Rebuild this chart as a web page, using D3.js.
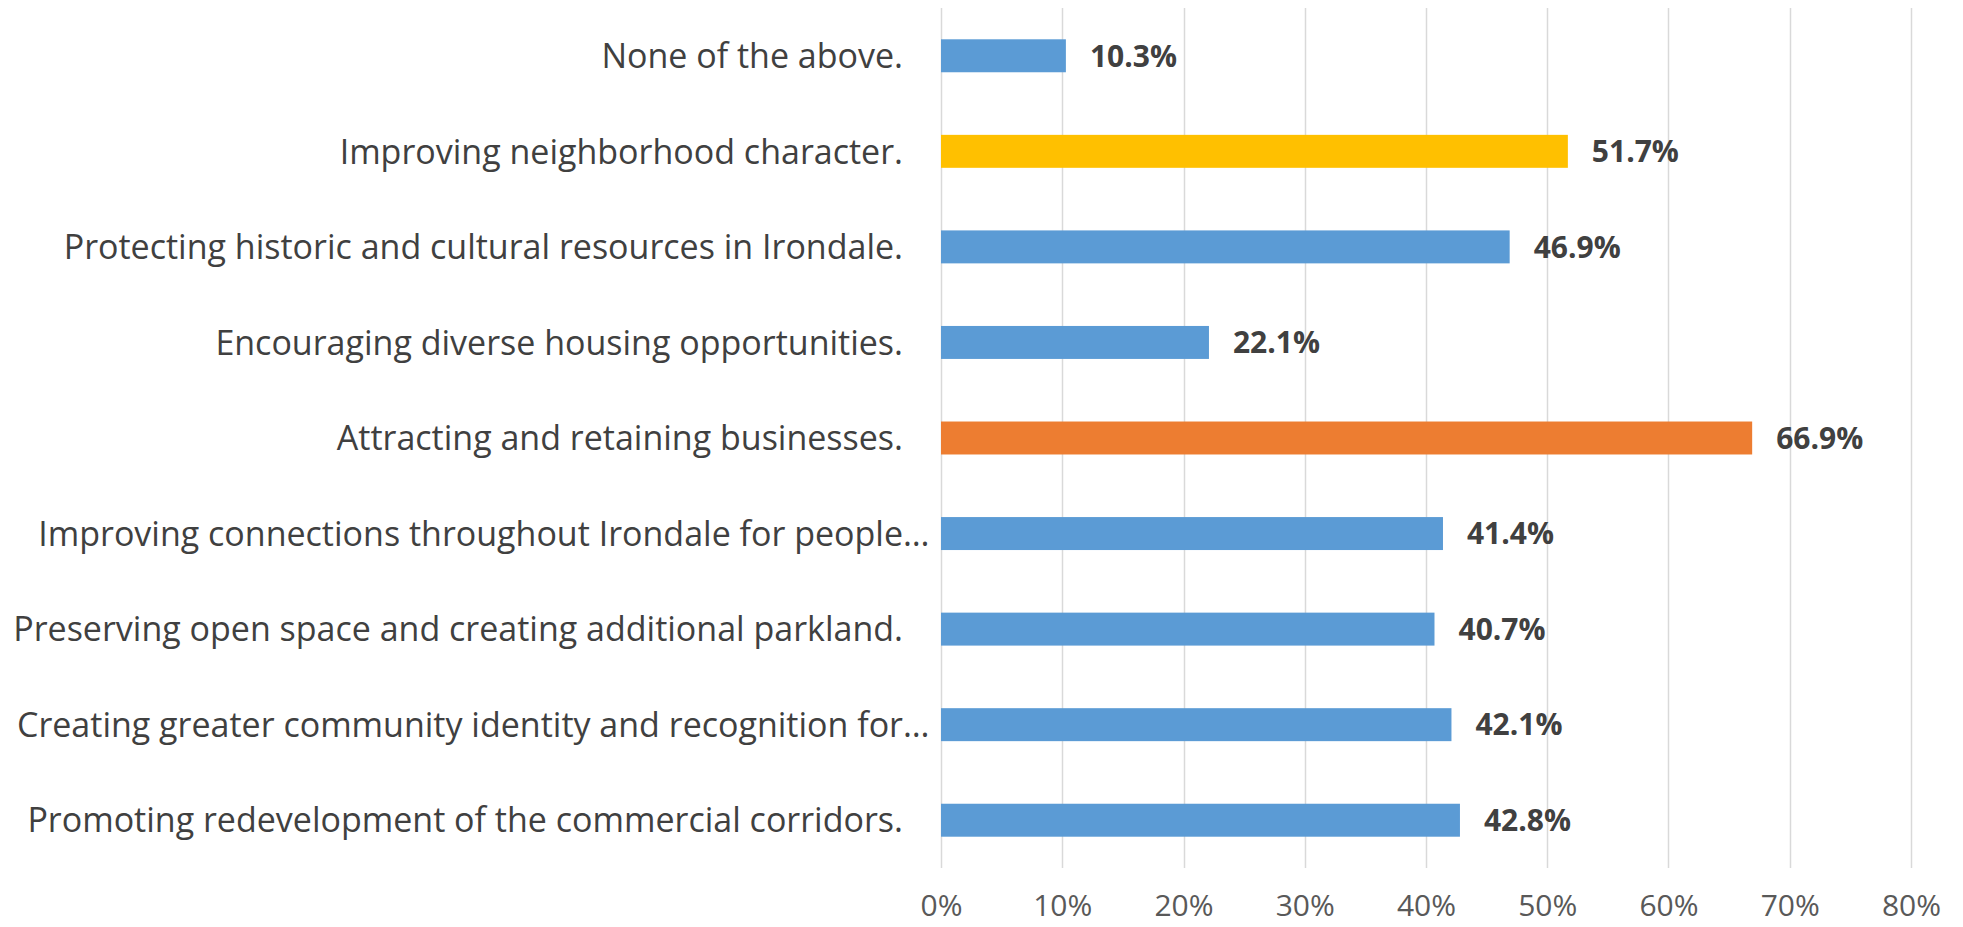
<!DOCTYPE html>
<html>
<head>
<meta charset="utf-8">
<script src="https://cdn.jsdelivr.net/npm/d3@7"></script>
<style>
    body { margin: 0; background: #fff; }
    text { font-family: "Open Sans", sans-serif; }
</style>
</head>
<body>
<div id="chart"></div>
<script>
var categories = [
    "None of the above.",
    "Improving neighborhood character.",
    "Protecting historic and cultural resources in Irondale.",
    "Encouraging diverse housing opportunities.",
    "Attracting and retaining businesses.",
    "Improving connections throughout Irondale for people\u2026",
    "Preserving open space and creating additional parkland.",
    "Creating greater community identity and recognition for\u2026",
    "Promoting redevelopment of the commercial corridors."
];
var values = [0.103, 0.517, 0.469, 0.221, 0.669, 0.414, 0.407, 0.421, 0.428];
var barColors = ["#5b9bd5", "#ffc000", "#5b9bd5", "#5b9bd5", "#ed7d31", "#5b9bd5", "#5b9bd5", "#5b9bd5", "#5b9bd5"];
var tickValues = [0, 0.1, 0.2, 0.3, 0.4, 0.5, 0.6, 0.7, 0.8];

var svgWidth = 1963;
var svgHeight = 927;

var margin = {
    top: 8,
    left: 941,
    right: 52,
    bottom: 59
};

var width = svgWidth - margin.left - margin.right;
var height = svgHeight - margin.top - margin.bottom;

var svg = d3.select("#chart").append("svg").attr("width", svgWidth).attr("height", svgHeight);

var chartGroup = svg.append("g").attr("transform", `translate(${margin.left},${margin.top})`);

var xLinearScale = d3.scaleLinear().domain([0, 0.8]).range([0, width]);

var yBandScale = d3.scaleBand().domain(categories).range([0, height]).paddingInner(0.655).paddingOuter(0.3275);

// gridlines
chartGroup.append("g").selectAll("line").data(tickValues).enter().append("line")
    .attr("x1", d => Math.round(xLinearScale(d)) + 0.5)
    .attr("x2", d => Math.round(xLinearScale(d)) + 0.5)
    .attr("y1", 0)
    .attr("y2", height)
    .attr("stroke", "#d9d9d9")
    .attr("stroke-width", 1.5);

// bottom axis, only labels
var bottomAxis = d3.axisBottom(xLinearScale).tickValues(tickValues).tickFormat(d3.format(".0%")).tickSize(0).tickPadding(27);

var xAxis = chartGroup.append("g").attr("transform", `translate(0,${height})`).call(bottomAxis);
xAxis.select(".domain").remove();
xAxis.selectAll("text").attr("font-size", "30px").attr("fill", "#595959").attr("font-family", "Open Sans, sans-serif");

// bars
chartGroup.selectAll("rect.bar").data(categories).enter().append("rect")
    .attr("class", "bar")
    .attr("x", xLinearScale(0))
    .attr("y", d => yBandScale(d))
    .attr("width", (d, i) => xLinearScale(values[i]) - xLinearScale(0))
    .attr("height", yBandScale.bandwidth())
    .attr("fill", (d, i) => barColors[i]);

// value labels
chartGroup.selectAll("text.value").data(categories).enter().append("text")
    .attr("class", "value")
    .attr("x", (d, i) => xLinearScale(values[i]) + 24)
    .attr("y", d => yBandScale(d) + yBandScale.bandwidth() / 2)
    .attr("dy", "0.36em")
    .attr("font-size", "30px")
    .attr("font-weight", "bold")
    .attr("fill", "#404040")
    .text((d, i) => d3.format(".1%")(values[i]));

// category labels, an ellipsis hangs past the right edge
var labelRight = -38;
var labelGroup = chartGroup.append("g");

categories.forEach(function(label){
    var cut = label.endsWith("\u2026");
    var base = cut ? label.slice(0, -1) : label;
    var cy = yBandScale(label) + yBandScale.bandwidth() / 2;

    labelGroup.append("text")
        .attr("x", labelRight)
        .attr("y", cy)
        .attr("dy", "0.36em")
        .attr("text-anchor", "end")
        .attr("font-size", "34px")
        .attr("fill", "#404040")
        .text(base);

    if (cut) {
        labelGroup.append("text")
            .attr("x", labelRight)
            .attr("y", cy)
            .attr("dy", "0.36em")
            .attr("font-size", "34px")
            .attr("fill", "#404040")
            .text("\u2026");
    };
});
</script>
</body>
</html>
